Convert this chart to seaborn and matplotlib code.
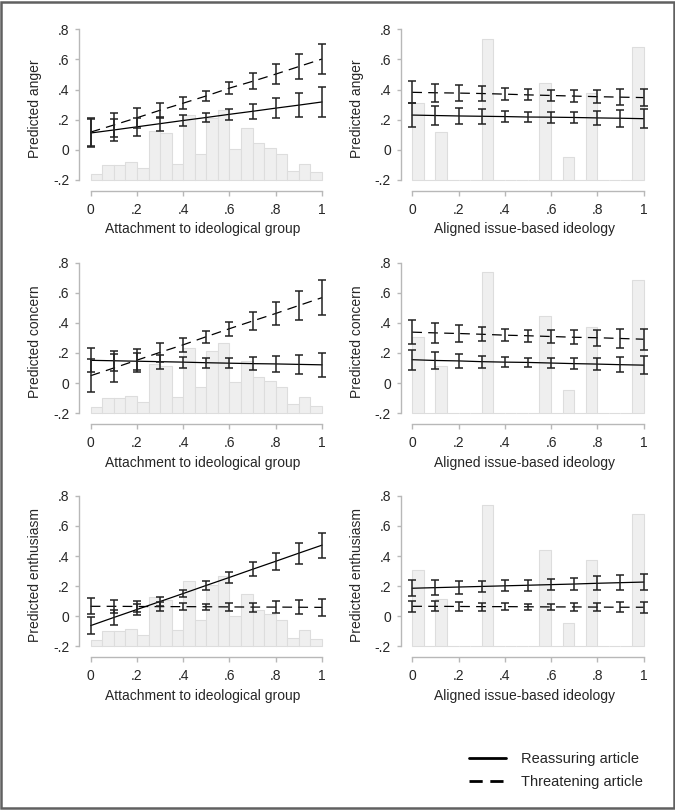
import numpy as np
import pandas as pd
import seaborn as sns
import matplotlib.pyplot as plt
from matplotlib.lines import Line2D
from matplotlib.patches import Rectangle

# x positions of the margins
x_vals = [0, 0.1, 0.2, 0.3, 0.4, 0.5, 0.6, 0.7, 0.8, 0.9, 1.0]

# histogram of each moderator (bar heights above the -.2 floor, bins of .05)
bin_left = [0, 0.05, 0.1, 0.15, 0.2, 0.25, 0.3, 0.35, 0.4, 0.45,
            0.5, 0.55, 0.6, 0.65, 0.7, 0.75, 0.8, 0.85, 0.9, 0.95]
hist_attach = [0.042, 0.100, 0.100, 0.117, 0.077, 0.325, 0.310, 0.106, 0.431, 0.173,
               0.410, 0.465, 0.204, 0.347, 0.243, 0.212, 0.175, 0.058, 0.108, 0.051]
hist_issue = [0.509, 0, 0.316, 0, 0, 0, 0.936, 0, 0, 0,
              0, 0.642, 0, 0.155, 0, 0.575, 0, 0, 0, 0.881]

# predicted values and CI half-widths: reassuring (solid) / threatening (dashed)
anger_att_reas = [0.112, 0.132, 0.153, 0.174, 0.195, 0.215, 0.236, 0.256, 0.277, 0.297, 0.318]
anger_att_reas_ci = [0.093, 0.076, 0.060, 0.046, 0.037, 0.033, 0.038, 0.050, 0.064, 0.080, 0.097]
anger_att_thr = [0.118, 0.165, 0.213, 0.263, 0.310, 0.358, 0.410, 0.455, 0.503, 0.553, 0.603]
anger_att_thr_ci = [0.095, 0.080, 0.066, 0.050, 0.041, 0.036, 0.039, 0.053, 0.069, 0.085, 0.100]

anger_iss_reas = [0.231, 0.228, 0.225, 0.223, 0.221, 0.218, 0.217, 0.215, 0.212, 0.210, 0.207]
anger_iss_reas_ci = [0.077, 0.063, 0.055, 0.048, 0.039, 0.036, 0.037, 0.039, 0.045, 0.055, 0.061]
anger_iss_thr = [0.382, 0.379, 0.377, 0.374, 0.370, 0.365, 0.361, 0.357, 0.353, 0.350, 0.347]
anger_iss_thr_ci = [0.072, 0.061, 0.053, 0.047, 0.039, 0.037, 0.039, 0.041, 0.044, 0.051, 0.058]

concern_att_reas = [0.151, 0.148, 0.145, 0.142, 0.139, 0.135, 0.132, 0.129, 0.127, 0.124, 0.121]
concern_att_reas_ci = [0.080, 0.068, 0.057, 0.046, 0.036, 0.032, 0.035, 0.042, 0.053, 0.065, 0.079]
concern_att_thr = [0.049, 0.100, 0.152, 0.204, 0.254, 0.308, 0.361, 0.412, 0.462, 0.515, 0.567]
concern_att_thr_ci = [0.111, 0.094, 0.077, 0.061, 0.046, 0.039, 0.046, 0.061, 0.078, 0.096, 0.116]

concern_iss_reas = [0.155, 0.150, 0.147, 0.142, 0.139, 0.137, 0.133, 0.129, 0.126, 0.122, 0.119]
concern_iss_reas_ci = [0.065, 0.054, 0.047, 0.040, 0.035, 0.031, 0.033, 0.036, 0.041, 0.048, 0.059]
concern_iss_thr = [0.338, 0.333, 0.329, 0.324, 0.318, 0.314, 0.309, 0.304, 0.301, 0.296, 0.291]
concern_iss_thr_ci = [0.080, 0.067, 0.056, 0.047, 0.042, 0.039, 0.042, 0.046, 0.052, 0.060, 0.069]

enth_att_reas = [-0.062, -0.008, 0.045, 0.098, 0.151, 0.205, 0.258, 0.312, 0.365, 0.419, 0.472]
enth_att_reas_ci = [0.058, 0.048, 0.038, 0.030, 0.026, 0.028, 0.035, 0.046, 0.057, 0.070, 0.082]
enth_att_thr = [0.066, 0.066, 0.065, 0.064, 0.064, 0.063, 0.062, 0.061, 0.061, 0.060, 0.059]
enth_att_thr_ci = [0.054, 0.045, 0.035, 0.028, 0.023, 0.019, 0.024, 0.030, 0.039, 0.045, 0.057]

enth_iss_reas = [0.186, 0.190, 0.194, 0.198, 0.202, 0.206, 0.210, 0.214, 0.219, 0.223, 0.227]
enth_iss_reas_ci = [0.052, 0.048, 0.043, 0.039, 0.036, 0.035, 0.036, 0.040, 0.045, 0.050, 0.055]
enth_iss_thr = [0.066, 0.066, 0.065, 0.064, 0.064, 0.063, 0.062, 0.062, 0.061, 0.060, 0.060]
enth_iss_thr_ci = [0.038, 0.034, 0.029, 0.027, 0.023, 0.021, 0.022, 0.025, 0.028, 0.032, 0.036]

y_ticks = [-0.2, 0, 0.2, 0.4, 0.6, 0.8]
y_ticklabels = ['-.2', '0', '.2', '.4', '.6', '.8']
x_ticks = [0, 0.2, 0.4, 0.6, 0.8, 1.0]
x_ticklabels = ['0', '.2', '.4', '.6', '.8', '1']

row_labels = ['Predicted anger', 'Predicted concern', 'Predicted enthusiasm']
col_labels = ['Attachment to ideological group', 'Aligned issue-based ideology']
legend_labels = ['Reassuring article', 'Threatening article']

panels = [
    [(anger_att_reas, anger_att_reas_ci, anger_att_thr, anger_att_thr_ci),
     (anger_iss_reas, anger_iss_reas_ci, anger_iss_thr, anger_iss_thr_ci)],
    [(concern_att_reas, concern_att_reas_ci, concern_att_thr, concern_att_thr_ci),
     (concern_iss_reas, concern_iss_reas_ci, concern_iss_thr, concern_iss_thr_ci)],
    [(enth_att_reas, enth_att_reas_ci, enth_att_thr, enth_att_thr_ci),
     (enth_iss_reas, enth_iss_reas_ci, enth_iss_thr, enth_iss_thr_ci)],
]
hists = [hist_attach, hist_issue]

sns.set_style('white')
plt.rcParams['font.family'] = ['Liberation Sans', 'DejaVu Sans']
plt.rcParams['lines.scale_dashes'] = False

AX_GRAY = '#b8b8b8'
DASH = (0, (7, 4.5))

fig = plt.figure(figsize=(6.75, 8.1), dpi=100)
lefts = [0.1172, 0.5936]
bottoms = [0.7642, 0.4763, 0.1884]

for r in range(3):
    for c in range(2):
        ax = fig.add_axes([lefts[c], bottoms[r], 0.3667, 0.2033])
        ax.bar(bin_left, hists[c], width=0.05, bottom=-0.2, align='edge',
               color='#efefef', edgecolor='#dddddd', linewidth=0.8, zorder=0)
        reas, reas_ci, thr, thr_ci = panels[r][c]
        df = pd.DataFrame({'x': x_vals, 'reas': reas, 'thr': thr})
        sns.lineplot(data=df, x='x', y='reas', ax=ax, color='black',
                     linewidth=0.9, zorder=3)
        sns.lineplot(data=df, x='x', y='thr', ax=ax, color='black',
                     linewidth=0.9, linestyle=DASH, zorder=3)
        for vals, ci in [(reas, reas_ci), (thr, thr_ci)]:
            ax.errorbar(x_vals, vals, yerr=ci, fmt='none', ecolor='#222222',
                        elinewidth=1.1, capsize=2.6, capthick=1.1, zorder=4,
                        clip_on=False)

        ax.set_xlim(-0.05, 1.02)
        ax.set_ylim(-0.273, 0.82)
        ax.set_yticks(y_ticks)
        ax.set_yticklabels(y_ticklabels)
        ax.set_xticks(x_ticks)
        ax.set_xticklabels(x_ticklabels)
        ax.set_ylabel(row_labels[r], fontsize=10, labelpad=8)
        ax.set_xlabel(col_labels[c], fontsize=10, labelpad=4)
        for s in ['top', 'right']:
            ax.spines[s].set_visible(False)
        ax.spines['left'].set_bounds(-0.2, 0.8)
        ax.spines['bottom'].set_bounds(0, 1)
        for s in ['left', 'bottom']:
            ax.spines[s].set_color(AX_GRAY)
            ax.spines[s].set_linewidth(1)
        ax.tick_params(axis='y', direction='out', length=3, width=1,
                       color=AX_GRAY, labelsize=10, pad=4, left=True)
        ax.tick_params(axis='x', direction='out', length=3.6, width=1,
                       color=AX_GRAY, labelsize=10, pad=5, bottom=True)
        ax.grid(False)

handles = [Line2D([], [], color='black', lw=2),
           Line2D([], [], color='black', lw=2, linestyle=(0, (9.5, 5.5)))]
fig.legend(handles, legend_labels, loc='upper left',
           bbox_to_anchor=(0.6948, 0.0716), frameon=False, fontsize=10.5,
           handlelength=2.55, handletextpad=1.05, labelspacing=0.62,
           borderpad=0, borderaxespad=0)

fig.patches.append(Rectangle((0.002, 0.002), 0.996, 0.996, transform=fig.transFigure,
                             fill=False, edgecolor='#606060', linewidth=1.8))

fig.savefig('out.png', dpi=100, facecolor='white')
